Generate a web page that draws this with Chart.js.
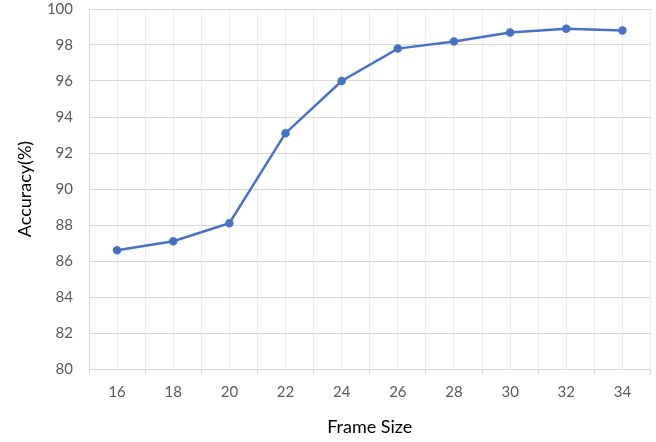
<!DOCTYPE html>
<html>
<head>
<meta charset="utf-8">
<script src="https://cdn.jsdelivr.net/npm/chart.js@4/dist/chart.umd.min.js"></script>
<style>
  html, body { margin: 0; padding: 0; background: #fff; }
  #wrap { width: 656px; height: 442px; }
</style>
</head>
<body>
<div id="wrap"><canvas id="accChart"></canvas></div>
<script>
// frame sizes on the x axis and measured accuracy
const frameSizes = [16, 18, 20, 22, 24, 26, 28, 30, 32, 34];
const accuracy = [86.6, 87.1, 88.1, 93.1, 96.0, 97.8, 98.2, 98.7, 98.9, 98.8];
const yTicks = [80, 82, 84, 86, 88, 90, 92, 94, 96, 98, 100];

const FONT = "Lato, 'Open Sans', sans-serif";
const points = frameSizes.map((x, i) => ({ x: x, y: accuracy[i] }));

const isLabel = (v) => frameSizes.includes(v);

new Chart(document.getElementById("accChart"), {
  type: "line",
  data: {
    datasets: [{
      data: points,
      borderColor: "#4472C4",
      backgroundColor: "#4472C4",
      borderWidth: 2.5,
      pointRadius: 3,
      pointHoverRadius: 3,
      tension: 0,
      clip: false
    }]
  },
  options: {
    responsive: true,
    maintainAspectRatio: false,
    animation: false,
    layout: { padding: { left: 0, right: 5, top: 9, bottom: 0 } },
    plugins: {
      legend: { display: false },
      tooltip: { enabled: false }
    },
    scales: {
      x: {
        type: "linear",
        min: frameSizes[0] - 1,
        max: frameSizes[frameSizes.length - 1] + 1,
        afterBuildTicks: (scale) => {
          const t = [];
          for (let v = scale.min; v <= scale.max; v++) t.push({ value: v });
          scale.ticks = t;
        },
        afterFit: (scale) => {
          scale.height = 73;
          scale.paddingLeft = 0;
          scale.paddingRight = 0;
        },
        grid: {
          color: (ctx) => ctx.tick && ctx.tick.value === frameSizes[0] - 1 ? "#d9d9d9" : "#ececec",
          tickColor: (ctx) => ctx.tick && isLabel(ctx.tick.value) ? "rgba(0,0,0,0)" : "#d9d9d9",
          tickLength: 5,
          lineWidth: 1
        },
        border: { color: "#d9d9d9", width: 1 },
        ticks: {
          autoSkip: false,
          maxRotation: 0,
          padding: 9,
          color: "#595959",
          font: { family: FONT, size: 15 },
          callback: (v) => isLabel(v) ? String(v) : ""
        },
        title: {
          display: true,
          text: "Frame Size",
          color: "#000",
          font: { family: FONT, size: 18 },
          padding: { top: 0, bottom: 4 }
        }
      },
      y: {
        min: yTicks[0],
        max: yTicks[yTicks.length - 1],
        ticks: {
          stepSize: 2,
          padding: 16,
          color: "#595959",
          font: { family: FONT, size: 15 }
        },
        afterFit: (scale) => {
          scale.width = 89;
          scale.paddingTop = 0;
          scale.paddingBottom = 0;
        },
        grid: { color: "#d9d9d9", drawTicks: false },
        border: { display: false },
        title: {
          display: true,
          text: "Accuracy(%)",
          color: "#000",
          font: { family: FONT, size: 18 },
          padding: { top: 14, bottom: 0 }
        }
      }
    }
  }
});
</script>
</body>
</html>
